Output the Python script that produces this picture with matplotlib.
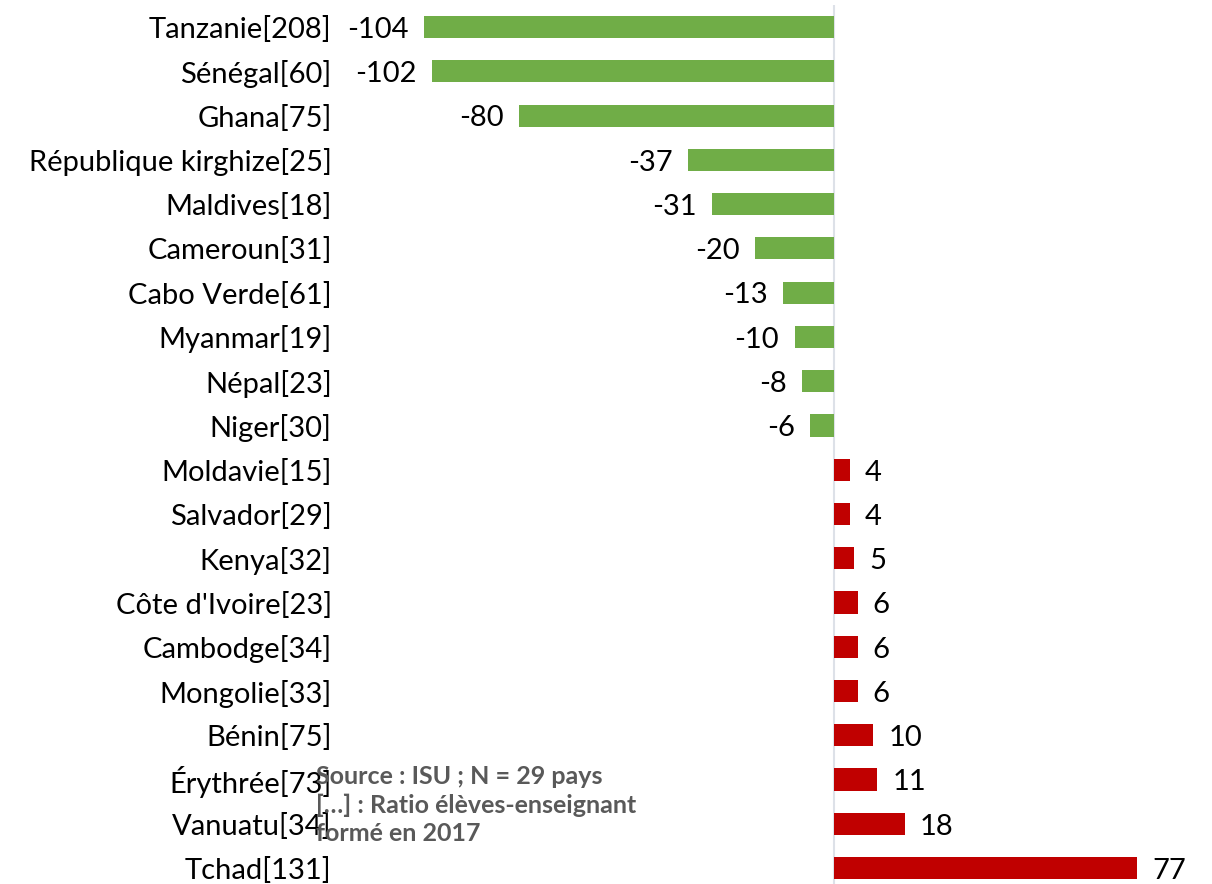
import matplotlib.pyplot as plt

# data
countries = ['Tanzanie[208]', 'Sénégal[60]', 'Ghana[75]', 'République kirghize[25]',
             'Maldives[18]', 'Cameroun[31]', 'Cabo Verde[61]', 'Myanmar[19]',
             'Népal[23]', 'Niger[30]', 'Moldavie[15]', 'Salvador[29]', 'Kenya[32]',
             "Côte d'Ivoire[23]", 'Cambodge[34]', 'Mongolie[33]', 'Bénin[75]',
             'Érythrée[73]', 'Vanuatu[34]', 'Tchad[131]']
values = [-104, -102, -80, -37, -31, -20, -13, -10, -8, -6,
          4, 4, 5, 6, 6, 6, 10, 11, 18, 77]
sourceNote = 'Source : ISU ; N = 29 pays\n[…] : Ratio élèves-enseignant\nformé en 2017'

plt.rcParams['font.family'] = ['Lato', 'DejaVu Sans']

fig = plt.figure(figsize=(12.12, 8.84), dpi=100)
ax = fig.add_axes([340 / 1212, 0, 1 - 340 / 1212, 879 / 884])

colors = ['#70AD47' if v < 0 else '#C00000' for v in values]
ypos = list(range(len(values)))
ax.barh(ypos, values, height=0.5, color=colors)

ax.set_xlim(-125.4, 96)
ax.set_ylim(19.36, -0.5)
ax.set_yticks(ypos)
ax.set_yticklabels(countries, fontsize=21)
ax.tick_params(axis='y', length=0, pad=6)
ax.set_xticks([])
for side in ['top', 'right', 'bottom', 'left']:
    ax.spines[side].set_visible(False)
ax.axvline(0, color='#dde1e8', lw=1.5, zorder=0)

for y, v in zip(ypos, values):
    if v < 0:
        ax.annotate(str(v), (v, y), xytext=(-11, -2), textcoords='offset points',
                    ha='right', va='center', fontsize=21)
    else:
        ax.annotate(str(v), (v, y), xytext=(11, -2), textcoords='offset points',
                    ha='left', va='center', fontsize=21)

fig.text(316 / 1212, 1 - 805 / 884, sourceNote, fontsize=18, fontweight='bold',
         color='#595959', va='center', ha='left', linespacing=1.3)

fig.savefig('out.png', dpi=100)
